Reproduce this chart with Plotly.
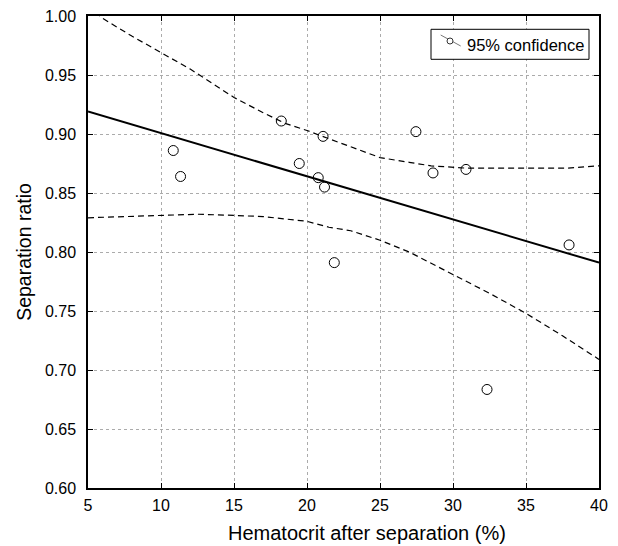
import plotly.graph_objects as go

# Observed data
hct = [10.84, 11.34, 18.24, 19.47, 21.1, 20.77, 21.2, 21.87, 27.46, 28.63, 30.89, 32.33, 37.95]
ratio = [0.886, 0.864, 0.911, 0.875, 0.898, 0.863, 0.855, 0.791, 0.902, 0.867, 0.870, 0.6835, 0.806]

# Regression line (end points)
fit_x = [5, 40]
fit_y = [0.919, 0.791]

# 95% confidence band
upper_x = [5, 6, 8, 10, 12, 15, 17, 18.5, 20, 21.5, 23, 25, 27, 28.5, 31, 35, 37.7, 40]
upper_y = [1.009, 0.998, 0.983, 0.969, 0.955, 0.931, 0.918, 0.909, 0.903, 0.896, 0.889, 0.880, 0.876, 0.873, 0.871, 0.871, 0.871, 0.873]
lower_x = [5, 7.5, 10, 12.5, 15, 17, 20, 21.5, 23, 25, 27, 30, 32.5, 35, 37.5, 40]
lower_y = [0.829, 0.830, 0.831, 0.832, 0.831, 0.830, 0.826, 0.821, 0.818, 0.810, 0.800, 0.781, 0.765, 0.748, 0.729, 0.709]

x_ticks = [5, 10, 15, 20, 25, 30, 35, 40]
y_ticks = [0.60, 0.65, 0.70, 0.75, 0.80, 0.85, 0.90, 0.95, 1.00]
legend_label = "95% confidence"

FONT = "Liberation Sans, Arial, Helvetica, sans-serif"

W, H = 618, 546
L, R, T, B = 88, 19, 16, 58
PW, PH = W - L - R, H - T - B


def px(xp):
    return (xp - L) / PW


def py(yp):
    return (H - B - yp) / PH


fig = go.Figure()
fig.add_trace(go.Scatter(x=upper_x, y=upper_y, mode="lines",
                         line=dict(color="black", width=1.2, dash="6px,4px"),
                         showlegend=False, hoverinfo="skip"))
fig.add_trace(go.Scatter(x=lower_x, y=lower_y, mode="lines",
                         line=dict(color="black", width=1.2, dash="6px,4px"),
                         showlegend=False, hoverinfo="skip"))
fig.add_trace(go.Scatter(x=fit_x, y=fit_y, mode="lines",
                         line=dict(color="black", width=2),
                         showlegend=False))
fig.add_trace(go.Scatter(x=hct, y=ratio, mode="markers",
                         marker=dict(symbol="circle-open", size=10, color="black",
                                     line=dict(width=1, color="black")),
                         showlegend=False))

axis_common = dict(showline=True, linecolor="black", linewidth=1.5, mirror="ticks",
                   ticks="inside", ticklen=5, tickcolor="black", tickwidth=1,
                   showgrid=True, gridcolor="#ababab", gridwidth=1, griddash="dot",
                   zeroline=False, automargin=False,
                   tickfont=dict(size=16, color="black", family=FONT))

fig.update_xaxes(range=[5, 40], tickvals=x_ticks, ticktext=[str(v) for v in x_ticks],
                 ticklabelstandoff=2, **axis_common)
fig.update_yaxes(range=[0.60, 1.00], tickvals=y_ticks, ticktext=[f"{v:.2f}" for v in y_ticks],
                 title=dict(text="Separation ratio",
                            font=dict(size=19.5, color="black", family=FONT), standoff=8),
                 ticklabelstandoff=7, **axis_common)

# Legend box drawn by hand (diagonal symbol as in the reference)
shapes = [
    dict(type="rect", xref="paper", yref="paper",
         x0=px(431), x1=px(589), y0=py(59.3), y1=py(29.3),
         line=dict(color="black", width=1), fillcolor="white", layer="above"),
    dict(type="line", xref="paper", yref="paper",
         x0=px(440.7), y0=py(35), x1=px(460.7), y1=py(46),
         line=dict(color="#777777", width=1), layer="above"),
    dict(type="circle", xref="paper", yref="paper",
         x0=px(447), x1=px(453), y0=py(44), y1=py(38),
         line=dict(color="#333333", width=1), fillcolor="white", layer="above"),
]
annotations = [
    dict(text=legend_label, xref="paper", yref="paper", x=px(465), y=py(45),
         xanchor="left", yanchor="middle", showarrow=False,
         font=dict(size=16.5, color="black", family=FONT)),
    dict(text="Hematocrit after separation (%)", xref="paper", yref="paper",
         x=px(366.7), y=py(532.5), xanchor="center", yanchor="middle", showarrow=False,
         font=dict(size=20, color="black", family=FONT)),
]

fig.update_layout(
    width=W, height=H,
    margin=dict(l=L, r=R, t=T, b=B, pad=0, autoexpand=False),
    plot_bgcolor="white", paper_bgcolor="white",
    font=dict(family=FONT, color="black"),
    showlegend=False,
    shapes=shapes,
    annotations=annotations,
)

fig.write_html("out.html", config={"displayModeBar": False})

# remove the default page margin so the figure sits at the window origin
with open("out.html", "r", encoding="utf-8") as f:
    html = f.read()
html = html.replace("<body>", '<body style="margin:0;padding:0;overflow:hidden">', 1)
with open("out.html", "w", encoding="utf-8") as f:
    f.write(html)
